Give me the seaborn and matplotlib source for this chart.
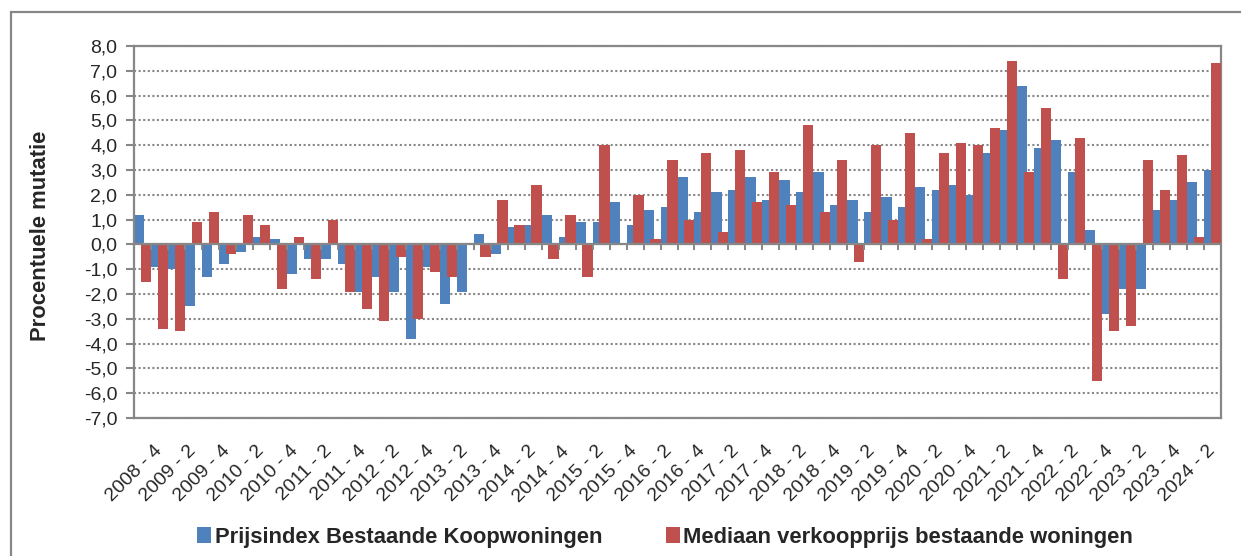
"""Quarterly house price change: price index vs median sale price."""

import matplotlib

matplotlib.use("Agg")
import matplotlib.pyplot as plt
import numpy as np
import pandas as pd
import seaborn as sns
from matplotlib.patches import Patch, Rectangle
from matplotlib.ticker import FuncFormatter

quarters = [
    "2008 - 3", "2008 - 4", "2009 - 1", "2009 - 2", "2009 - 3", "2009 - 4",
    "2010 - 1", "2010 - 2", "2010 - 3", "2010 - 4", "2011 - 1", "2011 - 2",
    "2011 - 3", "2011 - 4", "2012 - 1", "2012 - 2", "2012 - 3", "2012 - 4",
    "2013 - 1", "2013 - 2", "2013 - 3", "2013 - 4", "2014 - 1", "2014 - 2",
    "2014 - 3", "2014 - 4", "2015 - 1", "2015 - 2", "2015 - 3", "2015 - 4",
    "2016 - 1", "2016 - 2", "2016 - 3", "2016 - 4", "2017 - 1", "2017 - 2",
    "2017 - 3", "2017 - 4", "2018 - 1", "2018 - 2", "2018 - 3", "2018 - 4",
    "2019 - 1", "2019 - 2", "2019 - 3", "2019 - 4", "2020 - 1", "2020 - 2",
    "2020 - 3", "2020 - 4", "2021 - 1", "2021 - 2", "2021 - 3", "2021 - 4",
    "2022 - 1", "2022 - 2", "2022 - 3", "2022 - 4", "2023 - 1", "2023 - 2",
    "2023 - 3", "2023 - 4", "2024 - 1", "2024 - 2",
]

prijsindex = [
    1.2, -0.9, -1.0, -2.5, -1.3, -0.8, -0.3, 0.3, 0.2, -1.2, -0.6, -0.6,
    -0.8, -1.9, -1.3, -1.9, -3.8, -0.9, -2.4, -1.9, 0.4, -0.4, 0.7, 0.8,
    1.2, 0.3, 0.9, 0.9, 1.7, 0.8, 1.4, 1.5, 2.7, 1.3, 2.1, 2.2,
    2.7, 1.8, 2.6, 2.1, 2.9, 1.6, 1.8, 1.3, 1.9, 1.5, 2.3, 2.2,
    2.4, 2.0, 3.7, 4.6, 6.4, 3.9, 4.2, 2.9, 0.6, -2.8, -1.8, -1.8,
    1.4, 1.8, 2.5, 3.0,
]

mediaan = [
    -1.5, -3.4, -3.5, 0.9, 1.3, -0.4, 1.2, 0.8, -1.8, 0.3, -1.4, 1.0,
    -1.9, -2.6, -3.1, -0.5, -3.0, -1.1, -1.3, 0.0, -0.5, 1.8, 0.8, 2.4,
    -0.6, 1.2, -1.3, 4.0, 0.0, 2.0, 0.2, 3.4, 1.0, 3.7, 0.5, 3.8,
    1.7, 2.9, 1.6, 4.8, 1.3, 3.4, -0.7, 4.0, 1.0, 4.5, 0.2, 3.7,
    4.1, 4.0, 4.7, 7.4, 2.9, 5.5, -1.4, 4.3, -5.5, -3.5, -3.3, 3.4,
    2.2, 3.6, 0.3, 7.3,
]

series_names = [
    "Prijsindex Bestaande Koopwoningen",
    "Mediaan verkoopprijs bestaande woningen",
]
series_colors = ["#4F81BD", "#C0504D"]
y_ticks = list(range(-7, 9))

GRAY = "#878787"

df = pd.concat(
    [
        pd.DataFrame({"quarter": quarters, "value": prijsindex, "series": series_names[0]}),
        pd.DataFrame({"quarter": quarters, "value": mediaan, "series": series_names[1]}),
    ],
    ignore_index=True,
)

sns.set_style("white")
plt.rcParams["font.family"] = ["Liberation Sans", "DejaVu Sans"]

fig = plt.figure(figsize=(12.41, 5.56), dpi=100)
ax = fig.add_axes([134 / 1241, 1 - 418 / 556, (1221 - 134) / 1241, 372 / 556])

sns.barplot(
    data=df,
    x="quarter",
    y="value",
    hue="series",
    order=quarters,
    hue_order=series_names,
    palette=series_colors,
    saturation=1,
    width=1.0,
    dodge=True,
    legend=False,
    linewidth=0,
    ax=ax,
)

# Excel-style overlap: widen each bar, red on top of blue
n = len(quarters)
for i, p in enumerate(ax.patches[: 2 * n]):
    w = p.get_width()
    if i < n:
        p.set_width(w * 1.2)
        p.set_zorder(2)
    else:
        right = p.get_x() + w
        p.set_width(w * 1.2)
        p.set_x(right - w * 1.2)
        p.set_zorder(3)

ax.set_xlim(-0.5, n - 0.5)
ax.set_ylim(-7, 8)

# zero axis with category tick marks
ax.axhline(0, color=GRAY, lw=1.6, zorder=4)
ax.vlines(np.arange(n + 1) - 0.5, -0.22, 0, color=GRAY, lw=1.4, zorder=4)

ax.set_yticks(y_ticks)
ax.yaxis.set_major_formatter(FuncFormatter(lambda v, _: f"{v:.1f}".replace(".", ",")))
ax.grid(True, axis="y", color=GRAY, linestyle=(0, (1, 1.2)), linewidth=1.5, zorder=0)
ax.set_axisbelow(True)

ax.set_xticks(range(1, n, 2))
ax.set_xticklabels(quarters[1::2])
plt.setp(ax.get_xticklabels(), rotation=45, ha="right", va="center",
         rotation_mode="anchor", fontsize=14)
ax.tick_params(axis="x", length=0, pad=22)
ax.tick_params(axis="y", length=6, width=1.5, color=GRAY, labelsize=14, pad=6,
               direction="out", left=True)

for s in ax.spines.values():
    s.set_color(GRAY)
    s.set_linewidth(1.6)

ax.set_xlabel("")
ax.set_ylabel("Procentuele mutatie", fontsize=15.8, fontweight="bold")
ax.yaxis.set_label_coords(-0.076, 0.49)

handles = [Patch(facecolor=c, edgecolor="none", label=l) for c, l in zip(series_colors, series_names)]
fig.legend(
    handles=handles,
    loc="center",
    bbox_to_anchor=(0.536, 0.034),
    ncol=2,
    frameon=False,
    prop={"size": 15.8, "weight": "bold"},
    handlelength=0.65,
    handleheight=0.75,
    handletextpad=0.15,
    columnspacing=2.9,
)

# outer chart frame
fig.patches.append(
    Rectangle((11 / 1241, -0.1), 1.2, 1.1 - 12 / 556, transform=fig.transFigure,
              facecolor="none", edgecolor=GRAY, lw=1.6)
)

fig.savefig("out.png", dpi=100)
